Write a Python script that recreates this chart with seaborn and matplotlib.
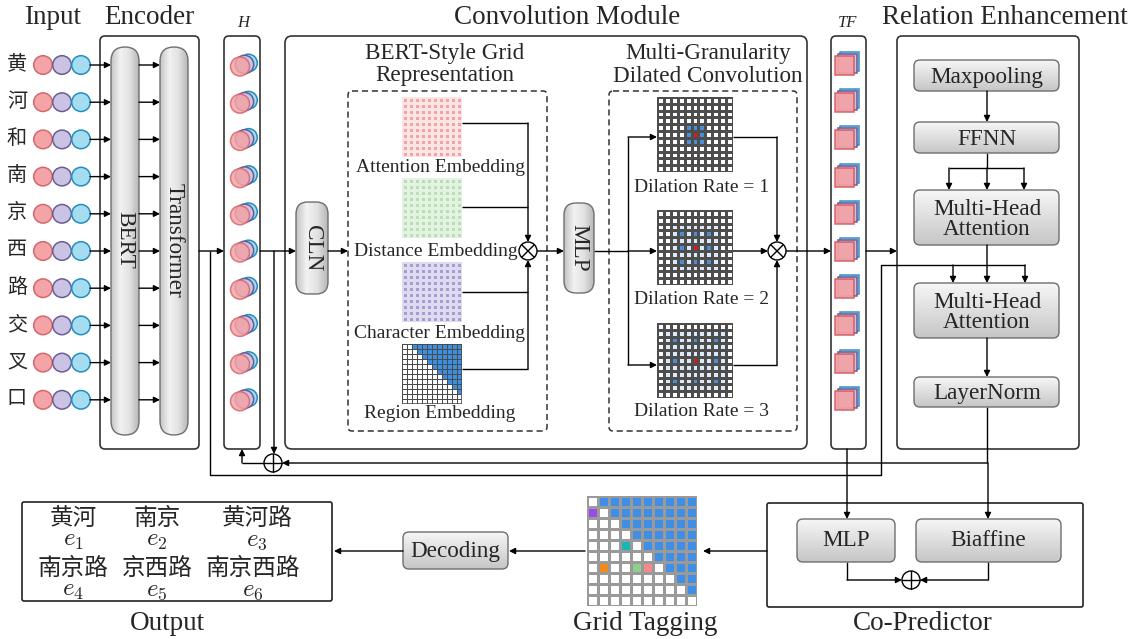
import numpy as np
import matplotlib
matplotlib.use('Agg')
import matplotlib.pyplot as plt
import seaborn as sns
from matplotlib.patches import FancyBboxPatch, Circle, Rectangle
from matplotlib.colors import ListedColormap, LinearSegmentedColormap

# ---- content of the diagram ----
tokens = ['黄', '河', '和', '南', '京', '西', '路', '交', '叉', '口']
entities = ['黄河', '南京', '黄河路', '南京路', '京西路', '南京西路']
entity_ids = [r'$e_1$', r'$e_2$', r'$e_3$', r'$e_4$', r'$e_5$', r'$e_6$']
emb_names = ['Attention Embedding', 'Distance Embedding', 'Character Embedding', 'Region Embedding']
emb_colors = ['#f2a3a3', '#b9e0b4', '#a79dd1']
emb_lines = ['#fbe4e4', '#e4f3e1', '#dedaf0']
dilation_rates = [1, 2, 3]
rel_blocks = ['Maxpooling', 'FFNN', 'Multi-Head\nAttention', 'Multi-Head\nAttention', 'LayerNorm']
tag_rows = ['0111111111',
            '2011111111',
            '0001111111',
            '0000111111',
            '0003011111',
            '0000001111',
            '0400560111',
            '0000000011',
            '0000000001',
            '0000000000']
tag_colors = ['white', '#3f8fe6', '#9b4be6', '#19b6b6', '#f28a1e', '#8fcf8c', '#f28a8a']

sns.set_theme(style='white')
plt.rcParams['font.family'] = ['Liberation Serif', 'Noto Sans CJK SC', 'DejaVu Sans']
plt.rcParams['mathtext.fontset'] = 'cm'

W, H = 1133, 639
fig = plt.figure(figsize=(W / 100, H / 100), dpi=100)
ax = fig.add_axes([0, 0, 1, 1])
ax.set_xlim(0, W)
ax.set_ylim(H, 0)
ax.axis('off')

LW = 1.0
grey_v = LinearSegmentedColormap.from_list('gv', ['#f6f6f6', '#c6c6c6'])
grey_h = LinearSegmentedColormap.from_list('gh', ['#c4c4c4', '#f2f2f2', '#e2e2e2', '#b8b8b8'])


def frame(x0, y0, x1, y1, r=5, ls='-', ec='#333333', lw=1.2):
    ax.add_patch(FancyBboxPatch((x0, y0), x1 - x0, y1 - y0,
                                boxstyle=f'round,pad=0,rounding_size={r}',
                                fc='none', ec=ec, lw=lw, ls=ls, zorder=1))


def gbox(x0, y0, x1, y1, r=5, vertical=True):
    p = FancyBboxPatch((x0, y0), x1 - x0, y1 - y0,
                       boxstyle=f'round,pad=0,rounding_size={r}',
                       fc='none', ec='#6e6e6e', lw=1, zorder=4)
    ax.add_patch(p)
    if vertical:
        g = np.linspace(0, 1, 64)[:, None]
        cm = grey_v
    else:
        g = np.linspace(0, 1, 64)[None, :]
        cm = grey_h
    im = ax.imshow(g, cmap=cm, extent=(x0, x1, y1, y0), aspect='auto', zorder=3)
    im.set_clip_path(p)


def line(pts):
    xs, ys = zip(*pts)
    ax.plot(xs, ys, color='black', lw=LW, zorder=2, solid_capstyle='butt')


def arrow(pts):
    if len(pts) > 2:
        line(pts[:-1])
    ax.annotate('', xy=pts[-1], xytext=pts[-2],
                arrowprops=dict(arrowstyle='-|>', color='black', lw=LW,
                                mutation_scale=9, shrinkA=0, shrinkB=0), zorder=5)


def op(x, y, kind, r=9):
    ax.add_patch(Circle((x, y), r, fc='white', ec='black', lw=LW, zorder=6))
    if kind == '+':
        ax.plot([x - r, x + r], [y, y], color='black', lw=LW, zorder=7)
        ax.plot([x, x], [y - r, y + r], color='black', lw=LW, zorder=7)
    else:
        d = r * 0.707
        ax.plot([x - d, x + d], [y - d, y + d], color='black', lw=LW, zorder=7)
        ax.plot([x - d, x + d], [y + d, y - d], color='black', lw=LW, zorder=7)


def grid(mat, box, colors, lc, lw):
    x0, y0, x1, y1 = box
    a = fig.add_axes([x0 / W, 1 - y1 / H, (x1 - x0) / W, (y1 - y0) / H])
    sns.heatmap(np.asarray(mat), ax=a, cmap=ListedColormap(colors), vmin=-0.5,
                vmax=len(colors) - 0.5, cbar=False, linewidths=lw, linecolor=lc,
                xticklabels=False, yticklabels=False)
    a.add_patch(Rectangle((0, 0), 1, 1, transform=a.transAxes, fc='none', ec=lc, lw=lw * 1.6))


def txt(x, y, s, fs=15, dy=2, **kw):
    ax.text(x, y + dy, s, fontsize=fs, ha='center', va='center', zorder=8, **kw)


rows = [65 + 37.2 * k for k in range(len(tokens))]
ymid = rows[5]
TS = 19.5   # section titles
BS = 16.7   # block labels
LS = 14     # small labels

# ---- section titles ----
txt(53, 15, 'Input', TS)
txt(149, 15, 'Encoder', TS)
txt(243, 21, 'H', 12, style='italic')
txt(567, 15, 'Convolution Module', TS)
txt(848, 21, 'TF', 12, style='italic')
txt(1005, 15, 'Relation Enhancement', TS)
txt(167, 621, 'Output', TS)
txt(645, 621, 'Grid Tagging', TS)
txt(923, 621, 'Co-Predictor', TS)

# ---- input tokens and encoder ----
frame(100, 36, 199, 449)
gbox(111, 47, 139, 435, r=14, vertical=False)
gbox(160, 47, 188, 435, r=14, vertical=False)
txt(125, 240, 'BERT', BS, dy=0, rotation=-90)
txt(174, 240, 'Transformer', BS, dy=0, rotation=-90)
for tok, y in zip(tokens, rows):
    txt(17, y, tok, 14.5, dy=0)
    for cx, fc, ec in [(43, '#f4a4a6', '#d5676d'), (62, '#cbc3e3', '#6b5b95'), (81, '#a6dcf0', '#1f8fc0')]:
        ax.add_patch(Circle((cx, y), 9.3, fc=fc, ec=ec, lw=1.1, zorder=4))
    arrow([(90, y), (111, y)])
    arrow([(139, y), (160, y)])

# ---- H column ----
frame(224, 36, 260, 449)
for y in rows:
    ax.add_patch(Circle((248.5, y - 2), 8.8, fc='#a6dcf0', ec='#1f8fc0', lw=1.1, zorder=4))
    ax.add_patch(Circle((244.5, y - 0.5), 9.2, fc='#cbc3e3', ec='#6b5b95', lw=1.1, zorder=4))
    ax.add_patch(Circle((240, y + 1.5), 9.5, fc='#f4a4a6', ec='#d5676d', lw=1.1, alpha=0.85, zorder=4))
arrow([(199, ymid), (224, ymid)])

# ---- convolution module ----
frame(285, 36, 807, 449, r=7)
txt(445, 51, 'BERT-Style Grid', BS)
txt(445, 74, 'Representation', BS)
txt(708, 51, 'Multi-Granularity', BS)
txt(708, 74, 'Dilated Convolution', BS)
frame(348, 91, 547, 431, r=4, ls=(0, (4, 2.5)), lw=1.1)
frame(609, 91, 797, 431, r=4, ls=(0, (4, 2.5)), lw=1.1)

gbox(296, 202, 328, 294, r=12, vertical=False)
txt(312, 248, 'CLN', BS, dy=0, rotation=-90)
arrow([(260, ymid), (296, ymid)])
arrow([(328, ymid), (348, ymid)])

emb_y = [(97, 157), (178, 238), (262, 322), (344, 404)]
lab_y = [165, 249, 331, 412]
for i, name in enumerate(emb_names):
    ya, yb = emb_y[i]
    if i < 3:
        grid(np.zeros((10, 10)), (402, ya, 462, yb), [emb_colors[i]], emb_lines[i], 0.8)
    else:
        reg = [[1 if j - r >= 2 else 0 for j in range(12)] for r in range(12)]
        grid(reg, (402, ya, 462, yb), ['white', '#3b8fe0'], '#4a4a4a', 0.7)
    txt(436 if i == 1 else 440, lab_y[i], name, LS)

ox = 528
line([(462, 123), (ox, 123)])
line([(462, 207), (ox, 207)])
arrow([(ox, 123), (ox, ymid - 9)])
line([(462, 292), (ox, 292)])
line([(462, 369), (ox, 369)])
arrow([(ox, 369), (ox, ymid + 9)])
op(ox, ymid, 'x')

gbox(564, 203, 594, 293, r=12, vertical=False)
txt(579, 248, 'MLP', BS, dy=0, rotation=-90)
arrow([(537, ymid), (564, ymid)])

dil_y = [(97, 172), (210, 285), (323, 398)]
dl_y = [186, 297, 410]
for k, rate in enumerate(dilation_rates):
    m = np.zeros((11, 11), dtype=int)
    if rate > 1:
        m[5 - rate - 1:5 + rate + 2, 5 - rate - 1:5 + rate + 2] = 1
    for di in (-1, 0, 1):
        for dj in (-1, 0, 1):
            m[5 + di * rate, 5 + dj * rate] = 2
    m[5, 5] = 3
    ya, yb = dil_y[k]
    grid(m, (657, ya, 733, yb), ['white', '#dde9f6', '#4a8ed6', '#e8141c'], '#4d4d4d', 0.8)
    txt(702, dl_y[k], f'Dilation Rate = {rate}', LS)

line([(594, ymid), (628, ymid)])
line([(628, 137), (628, 365)])
arrow([(628, 137), (657, 137)])
arrow([(628, ymid), (657, ymid)])
arrow([(628, 365), (657, 365)])
ox2 = 777
arrow([(733, 137), (ox2, 137), (ox2, ymid - 9)])
arrow([(733, ymid), (ox2 - 9, ymid)])
arrow([(733, 365), (ox2, 365), (ox2, ymid + 9)])
op(ox2, ymid, 'x')
arrow([(ox2 + 9, ymid), (831, ymid)])

# ---- TF column ----
frame(831, 36, 866, 449)
for y in rows:
    ax.add_patch(Rectangle((840, y - 13), 19, 19, fc='#a9d9f1', ec='#3a8fc8', lw=1.1, zorder=4))
    ax.add_patch(Rectangle((837.5, y - 11), 19, 19, fc='#cbc3e3', ec='#6b5b95', lw=1.1, zorder=4))
    ax.add_patch(Rectangle((835, y - 9), 19, 19, fc='#f2a2a4', ec='#d5585e', lw=1.1, alpha=0.92, zorder=4))
arrow([(866, ymid), (897, ymid)])

# ---- relation enhancement ----
frame(897, 36, 1079, 449)
cx = 987
blocks = [(60, 91), (122, 153), (190, 245), (283, 338), (377, 407)]
for (ya, yb), name in zip(blocks, rel_blocks):
    gbox(914, ya, 1059, yb, r=6)
    txt(cx, (ya + yb) / 2, name, BS, linespacing=0.95)
arrow([(cx, 91), (cx, 122)])
line([(cx, 153), (cx, 168)])
line([(949, 168), (1024, 168)])
arrow([(949, 168), (949, 190)])
arrow([(cx, 168), (cx, 190)])
arrow([(1024, 168), (1024, 190)])
arrow([(cx, 245), (cx, 283)])
arrow([(cx, 338), (cx, 377)])

# ---- residual paths ----
line([(210, ymid), (210, 475), (881, 475), (881, 265), (1025, 265)])
arrow([(953, 265), (953, 283)])
arrow([(1025, 265), (1025, 283)])
op(273, 463, '+')
arrow([(274, ymid), (274, 454)])
arrow([(264, 463), (242, 463), (242, 449)])
line([(cx, 407), (cx, 463)])
arrow([(cx, 463), (282, 463)])

# ---- co-predictor ----
frame(767, 503, 1083, 607, r=2, ec='#222222')
gbox(797, 519, 895, 562, r=6)
gbox(916, 519, 1061, 562, r=6)
txt(846, 539, 'MLP', BS)
txt(988, 539, 'Biaffine', BS)
arrow([(847, 449), (847, 519)])
arrow([(cx + 1, 463), (cx + 1, 519)])
op(911, 580, '+')
arrow([(847, 562), (847, 580), (902, 580)])
arrow([(988, 562), (988, 580), (920, 580)])

# ---- grid tagging, decoding, output ----
tags = [[int(c) for c in r] for r in tag_rows]
grid(tags, (587, 496, 697, 606), tag_colors, '#9a9a9a', 0.9)
arrow([(767, 551), (703, 551)])
gbox(403, 532, 508, 569, r=6)
txt(455, 549, 'Decoding', BS)
arrow([(585, 551), (509, 551)])
arrow([(403, 551), (334, 551)])

frame(22, 502, 332, 601, r=2, ec='#222222')
ent_x = [73, 157, 257, 73, 157, 253]
for i, (name, eid) in enumerate(zip(entities, entity_ids)):
    yy = 519 if i < 3 else 569
    txt(ent_x[i], yy, name, 17, dy=0)
    txt(ent_x[i], yy + 22, eid, 18, dy=0)

fig.savefig('out.png', dpi=100)
